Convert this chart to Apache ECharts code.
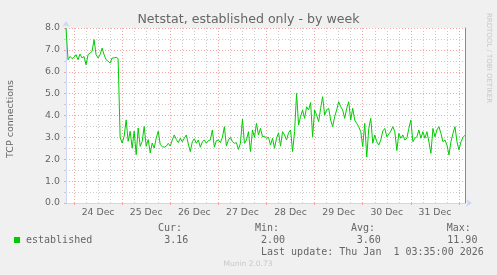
<!DOCTYPE html>
<html><head><meta charset="utf-8">
<script src="https://cdn.jsdelivr.net/npm/echarts@6/dist/echarts.min.js"></script>
<style>html,body{margin:0;padding:0;background:#f0f0f0}#c{width:497px;height:275px}</style>
</head><body><div id="c"></div>
<script>
// Hourly samples starting 23 Dec 2025 20:00
const segDec23_24 = [8.0, 6.55, 6.7, 6.6, 6.66, 6.78, 6.55, 6.81, 6.63, 6.7, 6.32, 6.78, 6.86, 6.93, 7.47, 6.78, 6.63, 6.78, 7.08, 6.78, 6.55, 6.48, 6.4, 6.63, 6.63, 6.66, 6.6];
const segDec24_25 = [3.0, 2.74, 3.05, 3.8, 2.82, 3.28, 2.51, 3.28, 2.21, 3.43, 2.59, 2.82, 3.5, 2.59, 2.9, 2.29, 2.74, 2.51, 2.97, 3.28, 2.67];
const segDec25_27 = [2.58, 2.55, 2.6, 2.73, 2.6, 2.88, 3.11, 2.91, 2.76, 2.96, 2.8, 2.96, 3.11, 2.7, 2.35, 2.8, 2.94, 2.73, 2.88, 2.55, 2.8, 2.88, 2.73, 2.85, 2.88, 3.34, 2.55, 2.85, 2.88, 2.76, 3.0, 3.49, 2.6, 2.88, 3.0, 2.8, 2.73, 2.76, 2.45, 2.73, 3.83, 2.73, 2.88, 3.26, 2.35, 3.34, 3.0, 3.64, 3.11, 3.41, 3.03];
const segDec27_29 = [3.06, 2.96, 3.0, 2.65, 2.96, 2.5, 2.96, 3.21, 2.6, 3.26, 3.11, 2.88, 3.21, 3.34, 2.35, 3.26, 5.01, 3.56, 3.95, 4.25, 3.87, 4.4, 4.25, 4.59, 3.03, 4.25, 4.02, 3.72, 4.33, 4.86, 4.02, 4.25, 4.33, 3.79, 3.49, 3.95, 4.25, 4.63, 4.4, 4.25, 3.87, 4.33, 4.63, 3.79, 4.33, 3.79, 3.64, 3.49, 3.26, 2.58];
const segDec30_Jan1 = [3.64, 2.1, 3.41, 3.87, 2.73, 3.11, 2.8, 2.65, 2.88, 3.29, 3.41, 3.03, 3.15, 3.29, 3.49, 3.26, 2.4, 3.18, 2.96, 3.11, 2.88, 2.96, 3.41, 3.79, 2.8, 2.96, 3.03, 3.34, 2.96, 3.26, 2.96, 3.26, 2.8, 2.27, 3.41, 3.03, 3.34, 3.49, 3.18, 2.8, 2.88, 2.65, 2.2, 2.8, 3.18, 3.49, 2.8, 2.43, 2.8, 3.0, 3.1];
const dayLabels = ['24 Dec','25 Dec','26 Dec','27 Dec','28 Dec','29 Dec','30 Dec','31 Dec'];
const yTicks = [0, 1, 2, 3, 4, 5, 6, 7, 8];
const legendStats = {cur: '3.16', min: '2.00', avg: '3.60', max: '11.90'};

const established = [].concat(segDec23_24, segDec24_25, segDec25_27, segDec27_29, segDec30_Jan1);
const months = ['Jan','Feb','Mar','Apr','May','Jun','Jul','Aug','Sep','Oct','Nov','Dec'];
const t0 = Date.UTC(2025, 11, 23, 20);
const cats = established.map((v, i) => {
  const d = new Date(t0 + i * 3600e3);
  return d.getUTCDate() + ' ' + months[d.getUTCMonth()] + ' ' + String(d.getUTCHours()).padStart(2, '0') + ':00';
});
const hourOf = i => new Date(t0 + i * 3600e3).getUTCHours();

const chart = echarts.init(document.getElementById('c'), null, {renderer: 'canvas'});
const TXT = '#666666';
const RED = '#f2a6a6';
const GRAY = '#cccccc';
const AXIS = '#cfd6f8';
const sans = 'DejaVu Sans';
const mono = 'DejaVu Sans Mono';

function t(text, x, y, size, opts) {
  opts = opts || {};
  return {
    type: 'text', x: x, y: y, rotation: opts.rot || 0, silent: true,
    style: {
      text: text, fill: opts.color || TXT,
      font: size + 'px "' + (opts.family || sans) + '"',
      textAlign: opts.align || 'left', textVerticalAlign: 'middle'
    }
  };
}

chart.setOption({
  animation: false,
  backgroundColor: '#f0f0f0',
  grid: {left: 66, top: 28, width: 399, height: 175, show: true, backgroundColor: '#ffffff', borderWidth: 0},
  xAxis: [{
    type: 'category', data: cats, boundaryGap: false, position: 'bottom',
    axisLine: {show: true, lineStyle: {color: AXIS, width: 1}, symbol: ['none', 'arrow'], symbolSize: [6, 6], symbolOffset: [0, 7]},
    axisTick: {show: true, length: 2, interval: i => hourOf(i) === 0, lineStyle: {color: RED}},
    axisLabel: {
      interval: i => hourOf(i) === 12,
      formatter: (v, i) => dayLabels[Math.round((i - 16) / 24)] || '',
      color: TXT, fontFamily: sans, fontSize: 9.3, margin: 5
    },
    splitLine: {show: true, interval: i => hourOf(i) === 0, lineStyle: {color: RED, type: [1, 2], width: 1}}
  }, {
    type: 'category', data: cats, boundaryGap: false, position: 'top',
    axisLine: {show: false}, axisTick: {show: false}, axisLabel: {show: false},
    splitLine: {show: true, interval: i => hourOf(i) % 6 === 0 && hourOf(i) !== 0, lineStyle: {color: GRAY, type: [1, 2], width: 1}}
  }],
  yAxis: [{
    type: 'value', min: yTicks[0], max: yTicks[yTicks.length - 1], interval: 1,
    axisLine: {show: true, lineStyle: {color: AXIS, width: 1}, symbol: ['none', 'arrow'], symbolSize: [6, 6], symbolOffset: [0, 7]},
    axisTick: {show: true, length: 2, lineStyle: {color: RED}},
    minorTick: {show: true, splitNumber: 2, length: 2, lineStyle: {color: GRAY}},
    axisLabel: {formatter: v => v.toFixed(1), color: TXT, fontFamily: sans, fontSize: 9.4, margin: 6},
    splitLine: {show: true, lineStyle: {color: RED, type: [1, 2], width: 1}},
    minorSplitLine: {show: true, lineStyle: {color: GRAY, type: [1, 2], width: 1}}
  }, {
    type: 'value', min: 0, max: 8, position: 'right',
    axisLine: {show: true, lineStyle: {color: '#8c8c8c', width: 1}},
    axisTick: {show: false}, axisLabel: {show: false}, splitLine: {show: false}
  }],
  series: [{
    type: 'line', name: 'established', data: established, xAxisIndex: 0, yAxisIndex: 0,
    showSymbol: false, symbol: 'none', lineStyle: {color: '#00cc00', width: 1}, itemStyle: {color: '#00cc00'}, clip: true
  }],
  graphic: [
    t('Netstat, established only - by week', 248.5, 19.5, 12.6, {align: 'center'}),
    t('TCP connections', 11, 119, 9.5, {align: 'center', rot: Math.PI / 2}),
    t('RRDTOOL / TOBI OETIKER', 489, 58, 7, {align: 'center', rot: -Math.PI / 2, color: '#c8c8c8'}),
    {type: 'rect', shape: {x: 14, y: 237, width: 6, height: 6}, style: {fill: '#00cc00'}, silent: true},
    t('established', 26, 240, 10, {family: mono}),
    t('Cur:', 158, 228.5, 10, {family: mono}),
    t('Min:', 255, 228.5, 10, {family: mono}),
    t('Avg:', 351, 228.5, 10, {family: mono}),
    t('Max:', 446.7, 228.5, 10, {family: mono}),
    t(legendStats.cur, 164.3, 240, 10, {family: mono}),
    t(legendStats.min, 261, 240, 10, {family: mono}),
    t(legendStats.avg, 356.7, 240, 10, {family: mono}),
    t(legendStats.max, 447.3, 240, 10, {family: mono}),
    t('Last update: Thu Jan  1 03:35:00 2026', 261, 252, 10, {family: mono}),
    t('Munin 2.0.73', 248, 264.5, 7.5, {align: 'center', color: '#c8c8c8'})
  ]
});
</script>
</body></html>
